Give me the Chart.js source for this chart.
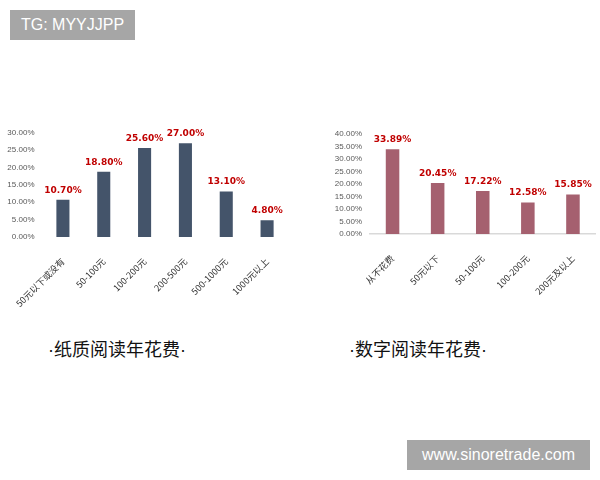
<!DOCTYPE html>
<html>
<head>
<meta charset="utf-8">
<script src="https://cdn.jsdelivr.net/npm/chart.js@4"></script>
<style>
  html, body { margin: 0; padding: 0; background: #fff; }
  body { width: 600px; height: 480px; position: relative; overflow: hidden; }
  .box { position: absolute; }
  .tag {
    position: absolute; background: #a6a6a6; color: #fff;
    font-family: "Liberation Sans", Arial, sans-serif; font-size: 16px;
    display: flex; align-items: center; justify-content: center;
  }
  .title {
    position: absolute; font-family: "Noto Sans CJK SC", sans-serif;
    font-size: 18px; color: #111; white-space: nowrap; transform: translateX(-50%);
  }
  .title span { font-family: "Liberation Sans", Arial, sans-serif; }
</style>
</head>
<body>
<div class="tag" style="left:10px;top:10px;width:125px;height:30px;">TG: MYYJJPP</div>
<div class="tag" style="left:407px;top:440px;width:183px;height:30px;">www.sinoretrade.com</div>

<div class="box" style="left:0;top:120px;width:300px;height:200px;"><canvas id="paperChart"></canvas></div>
<div class="box" style="left:300px;top:120px;width:300px;height:200px;"><canvas id="digitalChart"></canvas></div>

<div class="title" style="left:117px;top:335px;"><span>·</span>纸质阅读年花费<span>·</span></div>
<div class="title" style="left:418px;top:335px;"><span>·</span>数字阅读年花费<span>·</span></div>

<script>
// 纸质阅读年花费
const paperLabels = ["50元以下或没有", "50-100元", "100-200元", "200-500元", "500-1000元", "1000元以上"];
const paperValues = [10.70, 18.80, 25.60, 27.00, 13.10, 4.80];
// 数字阅读年花费
const digitalLabels = ["从不花费", "50元以下", "50-100元", "100-200元", "200元及以上"];
const digitalValues = [33.89, 20.45, 17.22, 12.58, 15.85];

const valueLabels = {
    id: "valueLabels",
    afterDatasetsDraw(chart) {
        const ctx = chart.ctx;
        const meta = chart.getDatasetMeta(0);
        const data = chart.data.datasets[0].data;
        ctx.save();
        ctx.font = "bold 9px 'DejaVu Sans', sans-serif";
        ctx.fillStyle = "#c00000";
        ctx.textAlign = "center";
        ctx.textBaseline = "bottom";
        meta.data.forEach((bar, i) => {
            ctx.fillText(data[i].toFixed(2) + "%", bar.x, bar.y - 5);
        });
        ctx.restore();
    }
};

function makeChart(id, labels, values, color, opts) {
    return new Chart(document.getElementById(id), {
        type: "bar",
        data: {
            labels: labels,
            datasets: [{
                data: values,
                backgroundColor: color,
                barPercentage: opts.barPct,
                categoryPercentage: 1,
            }],
        },
        options: {
            responsive: false,
            animation: false,
            layout: { padding: { top: opts.top, right: opts.right, left: 0, bottom: 0 } },
            plugins: { legend: { display: false }, tooltip: { enabled: false } },
            scales: {
                x: {
                    grid: { display: false },
                    border: { display: opts.baseline, color: "#d9d9d9", width: 1.5 },
                    ticks: {
                        minRotation: 45, maxRotation: 45, padding: 11,
                        autoSkip: false,
                        color: "#333",
                        font: { family: "'Noto Sans CJK SC', sans-serif", size: 9 },
                    },
                    afterFit: s => { s.height = opts.xHeight; },
                },
                y: {
                    min: 0, max: opts.max,
                    grid: { display: false, drawTicks: false },
                    border: { display: false },
                    ticks: {
                        stepSize: 5, padding: 8, color: "#595959",
                        autoSkip: false,
                        font: { family: "'Liberation Sans', Arial, sans-serif", size: 8 },
                        callback: v => v.toFixed(2) + "%",
                    },
                    afterFit: s => { s.width = opts.yWidth; },
                },
            },
        },
        plugins: [valueLabels],
    });
}

document.getElementById("paperChart").width = 300;
document.getElementById("paperChart").height = 200;
document.getElementById("digitalChart").width = 300;
document.getElementById("digitalChart").height = 200;

makeChart("paperChart", paperLabels, paperValues, "#44546a",
    { barPct: 0.32, max: 30, top: 10, right: 12.5, yWidth: 42.5, xHeight: 83, baseline: false });
makeChart("digitalChart", digitalLabels, digitalValues, "#a5606f",
    { barPct: 0.3, max: 40, top: 14, right: 4.5, yWidth: 70, xHeight: 86, baseline: true });
</script>
</body>
</html>
